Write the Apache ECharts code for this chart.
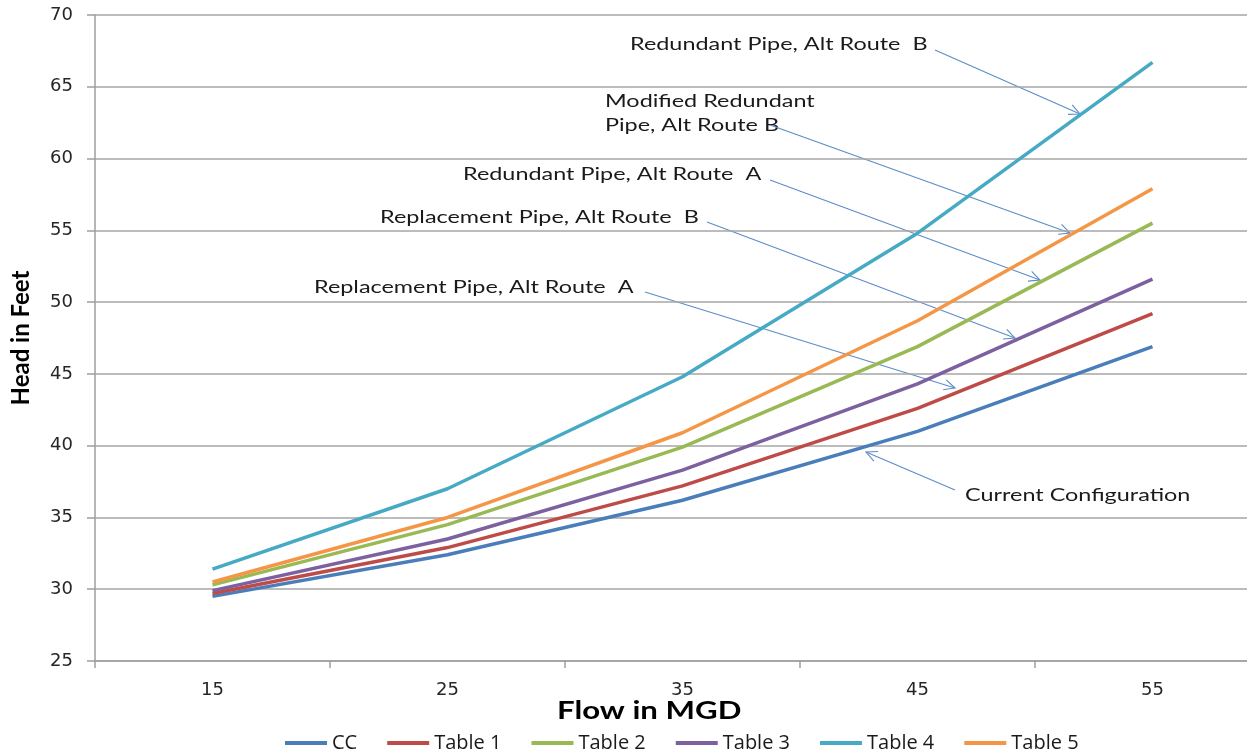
<!DOCTYPE html>
<html>
<head>
<meta charset="utf-8">
<script src="https://cdn.jsdelivr.net/npm/echarts@6/dist/echarts.min.js"></script>
<style>
html,body{margin:0;padding:0;background:#fff;}
#chart{width:1247px;height:754px;}
</style>
</head>
<body>
<div id="chart"></div>
<script>
const categories = ['15', '25', '35', '45', '55'];
const seriesNames = ['CC', 'Table 1', 'Table 2', 'Table 3', 'Table 4', 'Table 5'];
const cc     = [29.5, 32.4, 36.2, 41.0, 46.9];
const table1 = [29.7, 32.9, 37.2, 42.6, 49.2];
const table2 = [30.3, 34.5, 39.9, 46.9, 55.5];
const table3 = [29.9, 33.5, 38.3, 44.3, 51.6];
const table4 = [31.4, 37.0, 44.8, 54.8, 66.7];
const table5 = [30.5, 35.0, 40.9, 48.7, 57.9];
const yTicks = { min: 25, max: 70, interval: 5 };

const colors = ['#4A7EBB', '#BE4B48', '#98B954', '#7D60A0', '#46AAC5', '#F59646'];
const values = [cc, table1, table2, table3, table4, table5];

const annotations = [
  { lines: ['Redundant Pipe, Alt Route  B'], x: 630, y: 44, from: [935, 50], to: [1080, 114] },
  { lines: ['Modified Redundant', 'Pipe, Alt Route B'], x: 605, y: 101, from: [770, 125], to: [1070, 233] },
  { lines: ['Redundant Pipe, Alt Route  A'], x: 463, y: 174, from: [770, 180], to: [1040, 280] },
  { lines: ['Replacement Pipe, Alt Route  B'], x: 380, y: 217, from: [707, 222], to: [1015, 338] },
  { lines: ['Replacement Pipe, Alt Route  A'], x: 314, y: 287, from: [645, 292], to: [955, 388] },
  { lines: ['Current Configuration'], x: 965, y: 495, from: [955, 490], to: [866, 452] }
];

const textFont = 'Lato, "Open Sans", sans-serif';
const stretch = 1.3;
const arrowColor = '#5B8CC8';
const graphics = [];
annotations.forEach(a => {
  a.lines.forEach((t, i) => {
    graphics.push({
      type: 'text', x: a.x, y: a.y + i * 24, scaleX: stretch,
      style: { text: t, font: '18px ' + textFont, fill: '#1a1a1a', textVerticalAlign: 'middle', verticalAlign: 'middle' }
    });
  });
  const [x1, y1] = a.from, [x2, y2] = a.to;
  graphics.push({ type: 'line', shape: { x1, y1, x2, y2 }, style: { stroke: arrowColor, lineWidth: 1.1 } });
  const ang = Math.atan2(y2 - y1, x2 - x1);
  const L = 12, sp = 0.45;
  graphics.push({
    type: 'polyline',
    shape: { points: [
      [x2 - L * Math.cos(ang - sp), y2 - L * Math.sin(ang - sp)],
      [x2, y2],
      [x2 - L * Math.cos(ang + sp), y2 - L * Math.sin(ang + sp)]
    ] },
    style: { stroke: arrowColor, lineWidth: 1.1, fill: null }
  });
});
graphics.push({
  type: 'text', x: 557, y: 711, scaleX: stretch,
  style: { text: 'Flow in MGD', font: 'bold 24px ' + textFont, fill: '#000', textVerticalAlign: 'middle', verticalAlign: 'middle' }
});

const chart = echarts.init(document.getElementById('chart'), null, { renderer: 'canvas' });
chart.setOption({
  animation: false,
  backgroundColor: '#fff',
  color: colors,
  grid: { left: 95, width: 1175, top: 15, bottom: 93, containLabel: false, outerBoundsMode: 'none' },
  legend: {
    left: 280, top: 728,
    itemWidth: 42, itemHeight: 4, itemGap: 30,
    icon: 'rect',
    textStyle: { fontFamily: '"Open Sans", Lato, sans-serif', fontSize: 20, color: '#1a1a1a' },
    data: seriesNames
  },
  xAxis: {
    type: 'category',
    data: categories,
    boundaryGap: true,
    axisLine: { lineStyle: { color: '#9E9E9E', width: 1.5 } },
    axisTick: { show: true, length: 7, lineStyle: { color: '#9E9E9E', width: 1.5 } },
    axisLabel: { margin: 20, fontFamily: '"DejaVu Sans", Verdana, sans-serif', fontSize: 18, color: '#262626' },
    splitLine: { show: false }
  },
  yAxis: {
    type: 'value',
    min: yTicks.min, max: yTicks.max, interval: yTicks.interval,
    name: 'Head in Feet',
    nameLocation: 'middle',
    nameGap: 62,
    nameTextStyle: { fontFamily: textFont, fontWeight: 'bold', fontSize: 24, color: '#000' },
    axisLine: { show: true, lineStyle: { color: '#9E9E9E', width: 1.5 } },
    axisTick: { show: true, length: 8, lineStyle: { color: '#9E9E9E', width: 1.5 } },
    axisLabel: { margin: 22, fontFamily: '"DejaVu Sans", Verdana, sans-serif', fontSize: 18, color: '#262626' },
    splitLine: { show: true, lineStyle: { color: '#A6A6A6', width: 1.5 } }
  },
  series: seriesNames.map((n, i) => ({
    name: n, type: 'line', data: values[i],
    showSymbol: false, symbol: 'none',
    lineStyle: { width: 3.5, color: colors[i] },
    itemStyle: { color: colors[i] }
  })),
  graphic: graphics
});
</script>
</body>
</html>
